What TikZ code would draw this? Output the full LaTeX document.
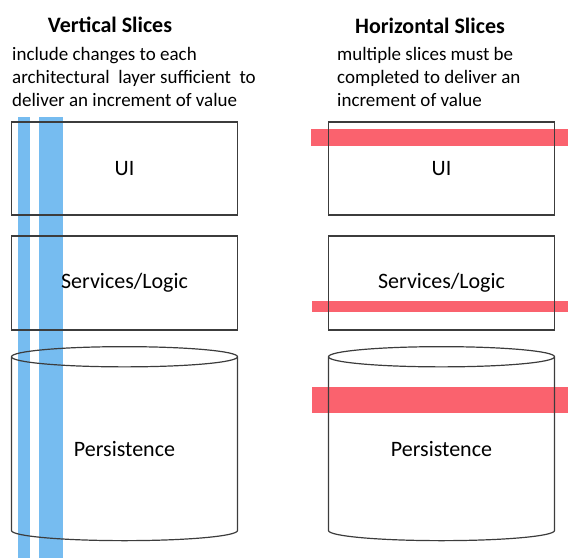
\documentclass[tikz,border=0pt]{standalone}
\usepackage{fontspec}
\setmainfont{Carlito}
\usepackage{xcolor}
\definecolor{slblue}{RGB}{118,188,240}
\definecolor{slred}{RGB}{250,98,110}
\definecolor{slgray}{RGB}{60,60,60}
\usetikzlibrary{positioning,shapes.geometric}

\begin{document}
\begin{tikzpicture}[x=1pt,y=-1pt,
  layer/.style={draw=slgray,line width=1.2pt,minimum width=226pt,minimum height=93pt,
    inner sep=0pt,font=\fontsize{22}{26}\selectfont},
  store/.style={layer,cylinder,shape border rotate=90,aspect=0.2,minimum height=194pt},
  head/.style={font=\fontsize{22}{26}\selectfont\bfseries,inner sep=0pt,anchor=base},
  note/.style={font=\fontsize{19}{23}\selectfont,align=left,inner sep=0pt,anchor=base west}]
  \useasboundingbox (0,0) rectangle (568,558);
  % Vertical slices: stripes run through every layer
  \fill[slblue] (18,117) rectangle (30,558);
  \fill[slblue] (39,117) rectangle (63,558);
  % Horizontal slices: one stripe per layer
  \fill[slred] (311,129) rectangle (568,146);
  \fill[slred] (312,301) rectangle (568,312);
  \fill[slred] (312,387) rectangle (568,413);
  % Headings (notes sit on their last line)
  \node[head] (vhead) at (110,32) {Vertical Slices};
  \node[note] (vnote) at (12,106) {include changes to each\\
    architectural\ \ layer sufficient\ \ to\\
    deliver an increment of value};
  \node[head] (hhead) at (430,33) {Horizontal Slices};
  \node[note] (hnote) at (337,106) {multiple slices must be\\
    completed to deliver an\\
    increment of value};
  % Layers, vertical side
  \node[layer] (uiV) at (124.5,168.5) {UI};
  \node[layer,minimum height=94pt] (svcV) at (124.5,283) {Services/Logic};
  \node[store] (dbV) at (124.5,449) {Persistence};
  % Layers, horizontal side
  \node[layer] (uiH) at (441.5,168.5) {UI};
  \node[layer,minimum height=94pt] (svcH) at (441.5,283) {Services/Logic};
  \node[store] (dbH) at (441.5,449) {Persistence};
\end{tikzpicture}
\end{document}
